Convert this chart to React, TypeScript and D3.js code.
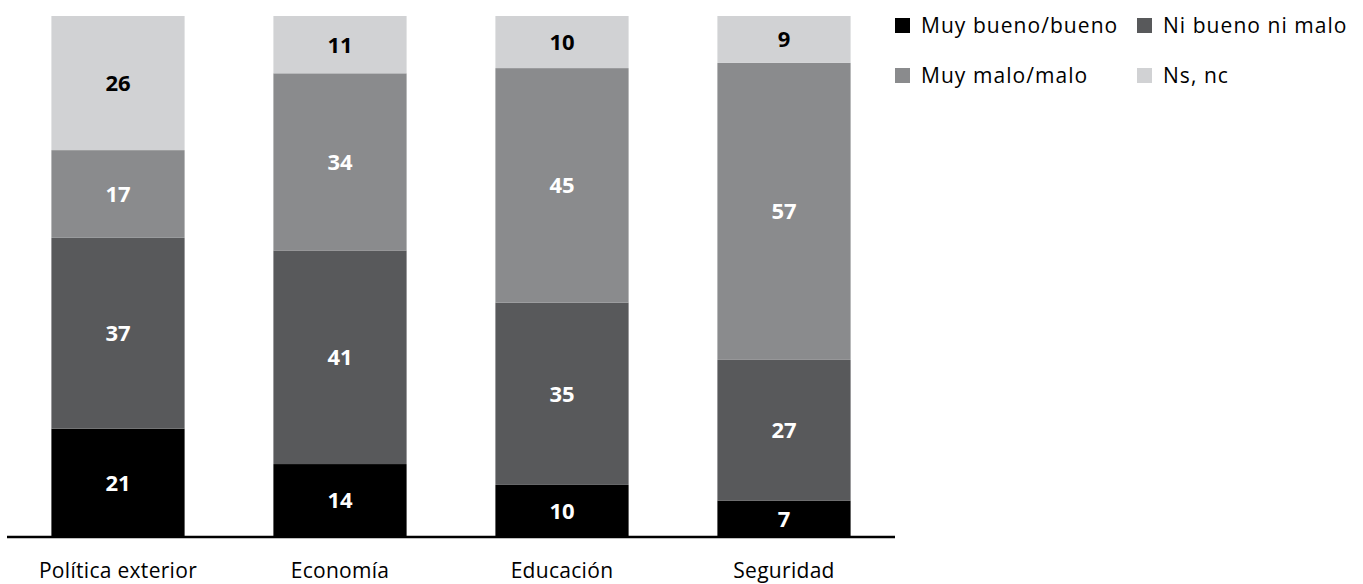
import React from "react";
import * as d3 from "d3";

// Categories and series (percent of respondents)
const categories = ["Política exterior", "Economía", "Educación", "Seguridad"];
const seriesKeys = ["Muy bueno/bueno", "Ni bueno ni malo", "Muy malo/malo", "Ns, nc"];
const muyBueno = [21, 14, 10, 7];
const niBueno = [37, 41, 35, 27];
const muyMalo = [17, 34, 45, 57];
const nsNc = [26, 11, 10, 9];

const colors = ["#000000", "#58595b", "#8a8b8d", "#d1d2d4"];
const labelColors = ["#ffffff", "#ffffff", "#ffffff", "#000000"];

const W = 1363;
const H = 584;
const FONT = "'Open Sans', 'DejaVu Sans', sans-serif";

export default function App() {
  const rows = categories.map((c, i) => ({
    category: c,
    [seriesKeys[0]]: muyBueno[i],
    [seriesKeys[1]]: niBueno[i],
    [seriesKeys[2]]: muyMalo[i],
    [seriesKeys[3]]: nsNc[i],
  }));

  const stack = d3
    .stack<any>()
    .keys(seriesKeys)
    .offset(d3.stackOffsetExpand);
  const layers = stack(rows);

  const x = d3
    .scaleBand<string>()
    .domain(categories)
    .range([7, 895])
    .paddingInner(0.4)
    .paddingOuter(0.2);

  const y = d3.scaleLinear().domain([0, 1]).range([537, 16]);

  const legendPos = [
    { x: 895, y: 18 },
    { x: 1137, y: 18 },
    { x: 895, y: 68 },
    { x: 1137, y: 68 },
  ];

  return (
    <svg
      width={W}
      height={H}
      style={{ position: "absolute", left: 0, top: 0, display: "block", background: "#fff" }}
    >
      {layers.map((layer, li) => (
        <g key={layer.key}>
          {layer.map((d, i) => {
            const x0 = x(categories[i])!;
            const yTop = y(d[1]);
            const yBot = y(d[0]);
            const value = (d.data as any)[layer.key] as number;
            return (
              <g key={i}>
                <rect x={x0} y={yTop} width={x.bandwidth()} height={yBot - yTop} fill={colors[li]} />
                <text
                  x={x0 + x.bandwidth() / 2}
                  y={(yTop + yBot) / 2}
                  dy="0.36em"
                  textAnchor="middle"
                  fill={labelColors[li]}
                  fontFamily={FONT}
                  fontWeight={700}
                  fontSize={22}
                >
                  {value}
                </text>
              </g>
            );
          })}
        </g>
      ))}

      {/* baseline */}
      <line x1={7} x2={895} y1={537} y2={537} stroke="#000" strokeWidth={2.5} />

      {/* category labels */}
      {categories.map((c) => (
        <text
          key={c}
          x={x(c)! + x.bandwidth() / 2}
          y={578}
          textAnchor="middle"
          fill="#000"
          fontFamily={FONT}
          fontSize={21}
          letterSpacing={0.3}
        >
          {c}
        </text>
      ))}

      {/* legend */}
      {seriesKeys.map((k, i) => (
        <g key={k} transform={`translate(${legendPos[i].x},${legendPos[i].y})`}>
          <rect x={0} y={0} width={15} height={15} fill={colors[i]} />
          <text
            x={26}
            y={15}
            fill="#000"
            fontFamily={FONT}
            fontSize={21}
            letterSpacing={1.05}
          >
            {k}
          </text>
        </g>
      ))}
    </svg>
  );
}
